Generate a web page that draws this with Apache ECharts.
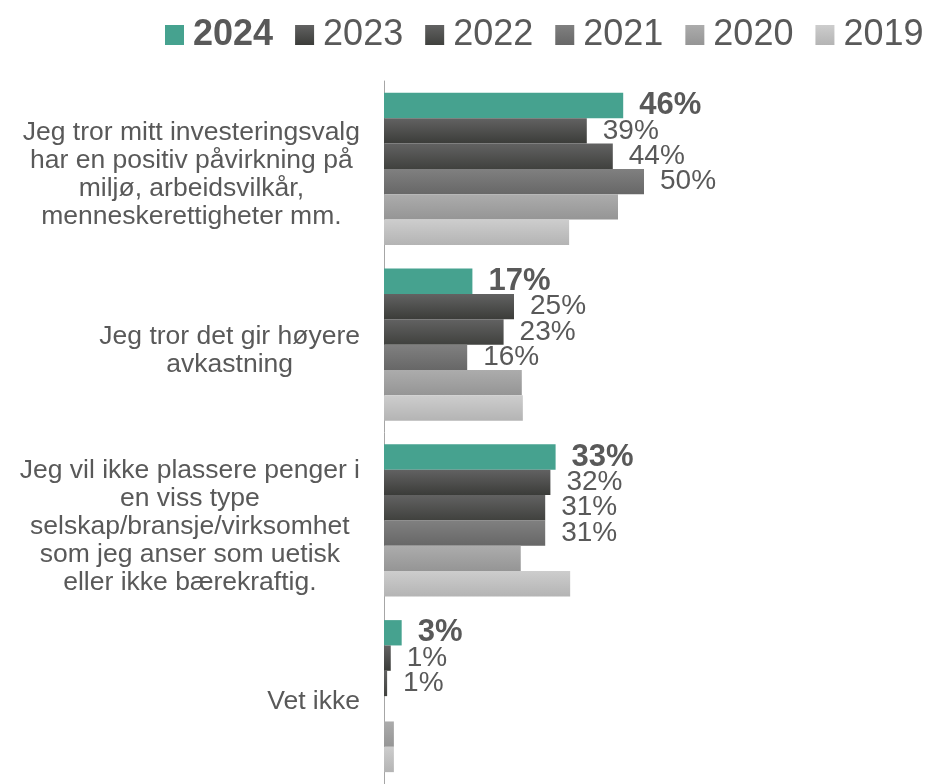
<!DOCTYPE html>
<html>
<head>
<meta charset="utf-8">
<script src="https://cdn.jsdelivr.net/npm/echarts@6/dist/echarts.min.js"></script>
<style>
  html, body { margin: 0; padding: 0; background: #fff; }
  #chart { width: 931px; height: 784px; }
</style>
</head>
<body>
<div id="chart"></div>
<script type="text/javascript">

var categories = [
    'Jeg tror mitt investeringsvalg\nhar en positiv påvirkning på\nmiljø, arbeidsvilkår,\nmenneskerettigheter mm.',
    'Jeg tror det gir høyere\navkastning',
    'Jeg vil ikke plassere penger i\nen viss type\nselskap/bransje/virksomhet\nsom jeg anser som uetisk\neller ikke bærekraftig.',
    'Vet ikke'
];
var years = ['2024', '2023', '2022', '2021', '2020', '2019'];

var v2024 = [46, 17, 33, 3.4];
var v2023 = [39, 25, 32, 1.3];
var v2022 = [44, 23, 31, 0.6];
var v2021 = [50, 16, 31, 0];
var v2020 = [45, 26.5, 26.3, 1.9];
var v2019 = [35.6, 26.7, 35.8, 1.9];

var values = [v2024, v2023, v2022, v2021, v2020, v2019];
var showLabel = [true, true, true, true, false, false];

function grad(top, bottom) {
    return new echarts.graphic.LinearGradient(0, 0, 0, 1, [
        {offset: 0, color: top},
        {offset: 1, color: bottom}
    ]);
}
var colors = [
    '#46a28f',
    grad('#626262', '#3b3c39'),
    grad('#626262', '#40413e'),
    grad('#808080', '#676767'),
    grad('#acacac', '#959595'),
    grad('#cdcdcd', '#b4b4b4')
];

var chart = echarts.init(document.getElementById('chart'));

var series = [];
for (var i = 0; i < years.length; i++) {
    series.push({
        name: years[i],
        type: 'bar',
        data: values[i],
        barGap: '0%',
        barCategoryGap: '13.5%',
        itemStyle: { color: colors[i] },
        label: {
            show: showLabel[i],
            position: 'right',
            distance: 16,
            color: '#595959',
            fontSize: i === 0 ? 31 : 28,
            fontWeight: i === 0 ? 'bold' : 'normal',
            fontFamily: 'Liberation Sans, Arial, sans-serif',
            formatter: function (p) {
                return p.value > 0 ? Math.round(p.value) + '%' : '';
            }
        }
    });
}

var option = {
    backgroundColor: '#ffffff',
    animation: false,
    legend: {
        left: 165,
        top: 17,
        width: 766,
        padding: 0,
        itemWidth: 19,
        itemHeight: 20,
        itemGap: 22,
        icon: 'rect',
        data: years,
        textStyle: {
            color: '#595959',
            fontSize: 36,
            fontFamily: 'Liberation Sans, Arial, sans-serif',
            padding: [0, 0, 0, 4],
            rich: {
                b: {
                    fontSize: 36,
                    fontWeight: 'bold',
                    color: '#595959',
                    fontFamily: 'Liberation Sans, Arial, sans-serif'
                }
            }
        },
        formatter: function (name) {
            return name === '2024' ? '{b|' + name + '}' : name;
        }
    },
    grid: {
        left: 384,
        top: 81,
        width: 520,
        height: 708
    },
    xAxis: {
        type: 'value',
        min: 0,
        max: 100,
        show: false
    },
    yAxis: {
        type: 'category',
        inverse: true,
        data: categories,
        axisLine: { show: true, lineStyle: { color: '#a6a6a6', width: 1 } },
        axisTick: { show: false },
        axisLabel: {
            margin: 24,
            align: 'right',
            padding: [12, 0, 0, 0],
            color: '#595959',
            fontSize: 26.5,
            lineHeight: 28,
            fontFamily: 'Liberation Sans, Arial, sans-serif',
            formatter: function (v) {
                return v.split('\n').map(function (l) { return '{c|' + l + '}'; }).join('\n');
            },
            rich: {
                c: {
                    align: 'center',
                    color: '#595959',
                    fontSize: 26.5,
                    lineHeight: 28,
                    fontFamily: 'Liberation Sans, Arial, sans-serif'
                }
            }
        }
    },
    series: series
};

chart.setOption(option);
</script>
</body>
</html>
